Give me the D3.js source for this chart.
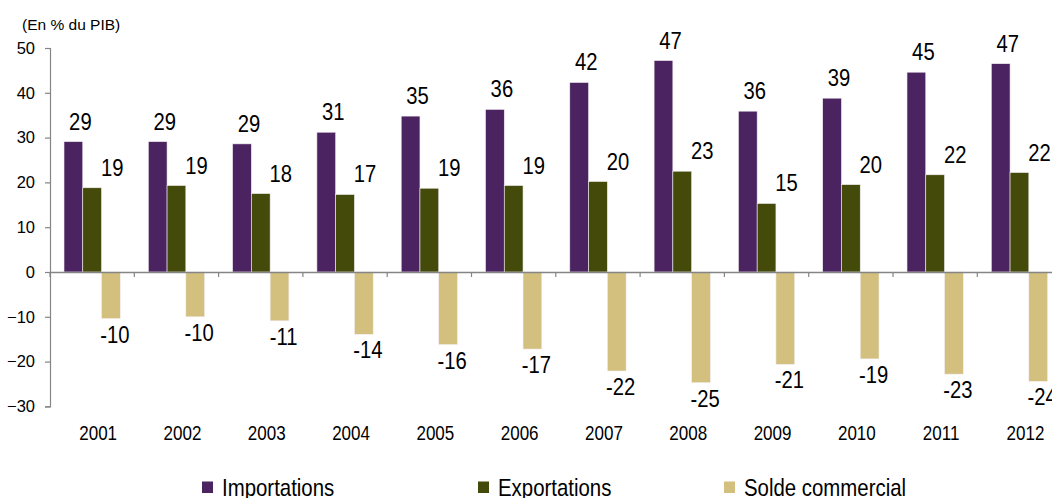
<!DOCTYPE html>
<html>
<head>
<meta charset="utf-8">
<script src="https://cdn.jsdelivr.net/npm/d3@7/dist/d3.min.js"></script>
<style>
  html, body { margin: 0; padding: 0; background: #fff; overflow: hidden; }
  svg { display: block; }
  text { fill: #000; }
</style>
</head>
<body>
<svg id="chart" width="1052" height="498"></svg>
<script>
const years = ["2001","2002","2003","2004","2005","2006","2007","2008","2009","2010","2011","2012"];
const importations = [29.1, 29.1, 28.6, 31.2, 34.8, 36.3, 42.3, 47.2, 35.9, 38.8, 44.6, 46.5];
const exportations = [18.8, 19.3, 17.5, 17.3, 18.7, 19.3, 20.2, 22.5, 15.3, 19.5, 21.7, 22.2];
const solde = [-10.4, -10.0, -10.9, -13.9, -16.2, -17.2, -22.1, -24.7, -20.6, -19.4, -22.8, -24.4];
const seriesNames = ["Importations", "Exportations", "Solde commercial"];
const seriesColors = ["#4B2360", "#434A0A", "#D3BF7E"];
const yTicks = [50, 40, 30, 20, 10, 0, -10, -20, -30];
const yTitle = "(En % du PIB)";

const series = [importations, exportations, solde];
const svg = d3.select("#chart");
const font = "'Liberation Sans', Arial, sans-serif";

const y = d3.scaleLinear().domain([-30, 50]).range([406.4, 48]);
const x = d3.scaleBand().domain(years).range([50, 1061.6]).paddingInner(0).paddingOuter(0);
const groupPad = 0.166; // fraction of band before bars
const xs = d3.scaleBand().domain(d3.range(3)).range([0, x.bandwidth() * (1 - 2 * groupPad)]);
const axisColor = "#858585";

// condensed text helper
function condensed(sel, sx) {
  sel.attr("transform", function() {
    const cx = +this.getAttribute("data-x"), cy = +this.getAttribute("data-y");
    return `translate(${cx},${cy}) scale(${sx},1)`;
  });
}

// Bars
series.forEach((vals, si) => {
  svg.append("g").selectAll("rect").data(vals).join("rect")
    .attr("x", (d, i) => x(years[i]) + x.bandwidth() * groupPad + xs(si))
    .attr("width", xs.bandwidth())
    .attr("y", d => y(Math.max(0, d)))
    .attr("height", d => Math.abs(y(d) - y(0)))
    .attr("fill", seriesColors[si])
    .attr("stroke", "#f2eef2")
    .attr("stroke-width", 0.6);
});

// Y axis
const yAxis = d3.axisLeft(y).tickValues(yTicks).tickSize(5).tickPadding(10).tickFormat(d3.format("d"));
const gy = svg.append("g").attr("transform", "translate(50,0)").call(yAxis);
gy.select(".domain").attr("stroke", axisColor).attr("stroke-width", 1.2);
gy.selectAll(".tick line").attr("stroke", axisColor).attr("stroke-width", 1.2);
gy.selectAll(".tick text").attr("font-family", font).attr("font-size", 16.5).attr("fill", "#000");

// X axis (at zero)
const xAxis = d3.axisBottom(x).tickSize(0).tickFormat(() => "");
const gx = svg.append("g").attr("transform", `translate(0,${y(0)})`).call(xAxis);
gx.select(".domain").attr("stroke", axisColor).attr("stroke-width", 1.5);
gx.selectAll(".tick").remove();
// category boundary ticks
svg.append("g").selectAll("line").data(years).join("line")
  .attr("x1", d => x(d)).attr("x2", d => x(d))
  .attr("y1", y(0)).attr("y2", y(0) + 5)
  .attr("stroke", axisColor).attr("stroke-width", 1.2);

// Year labels
svg.append("g").selectAll("text").data(years).join("text")
  .attr("data-x", d => x(d) + x.bandwidth() / 2 + 6)
  .attr("data-y", 440)
  .attr("text-anchor", "middle")
  .attr("font-family", font).attr("font-size", 21)
  .text(d => d)
  .call(condensed, 0.81);

// Value labels
const labelDx = [7, 20, 4];
series.forEach((vals, si) => {
  svg.append("g").selectAll("text").data(vals).join("text")
    .attr("data-x", (d, i) => x(years[i]) + x.bandwidth() * groupPad + xs(si) + xs.bandwidth() / 2 + labelDx[si])
    .attr("data-y", d => d >= 0 ? y(d) - 12 : y(d) + 24)
    .attr("text-anchor", "middle")
    .attr("font-family", font).attr("font-size", 23)
    .text(d => Math.round(d))
    .call(condensed, 0.88);
});

// Title
svg.append("text").attr("x", 22).attr("y", 30)
  .attr("font-family", font).attr("font-size", 15.5)
  .text(yTitle);

// Legend
const legendX = [202, 478, 724];
const lg = svg.append("g").selectAll("g").data(seriesNames).join("g")
  .attr("transform", (d, i) => `translate(${legendX[i]},0)`);
lg.append("rect").attr("x", 0).attr("y", 481.5).attr("width", 11).attr("height", 11.5)
  .attr("fill", (d, i) => seriesColors[i]);
lg.append("text").attr("data-x", 20).attr("data-y", 495.5)
  .attr("font-family", font).attr("font-size", 24)
  .text(d => d)
  .call(condensed, 0.85);
</script>
</body>
</html>
